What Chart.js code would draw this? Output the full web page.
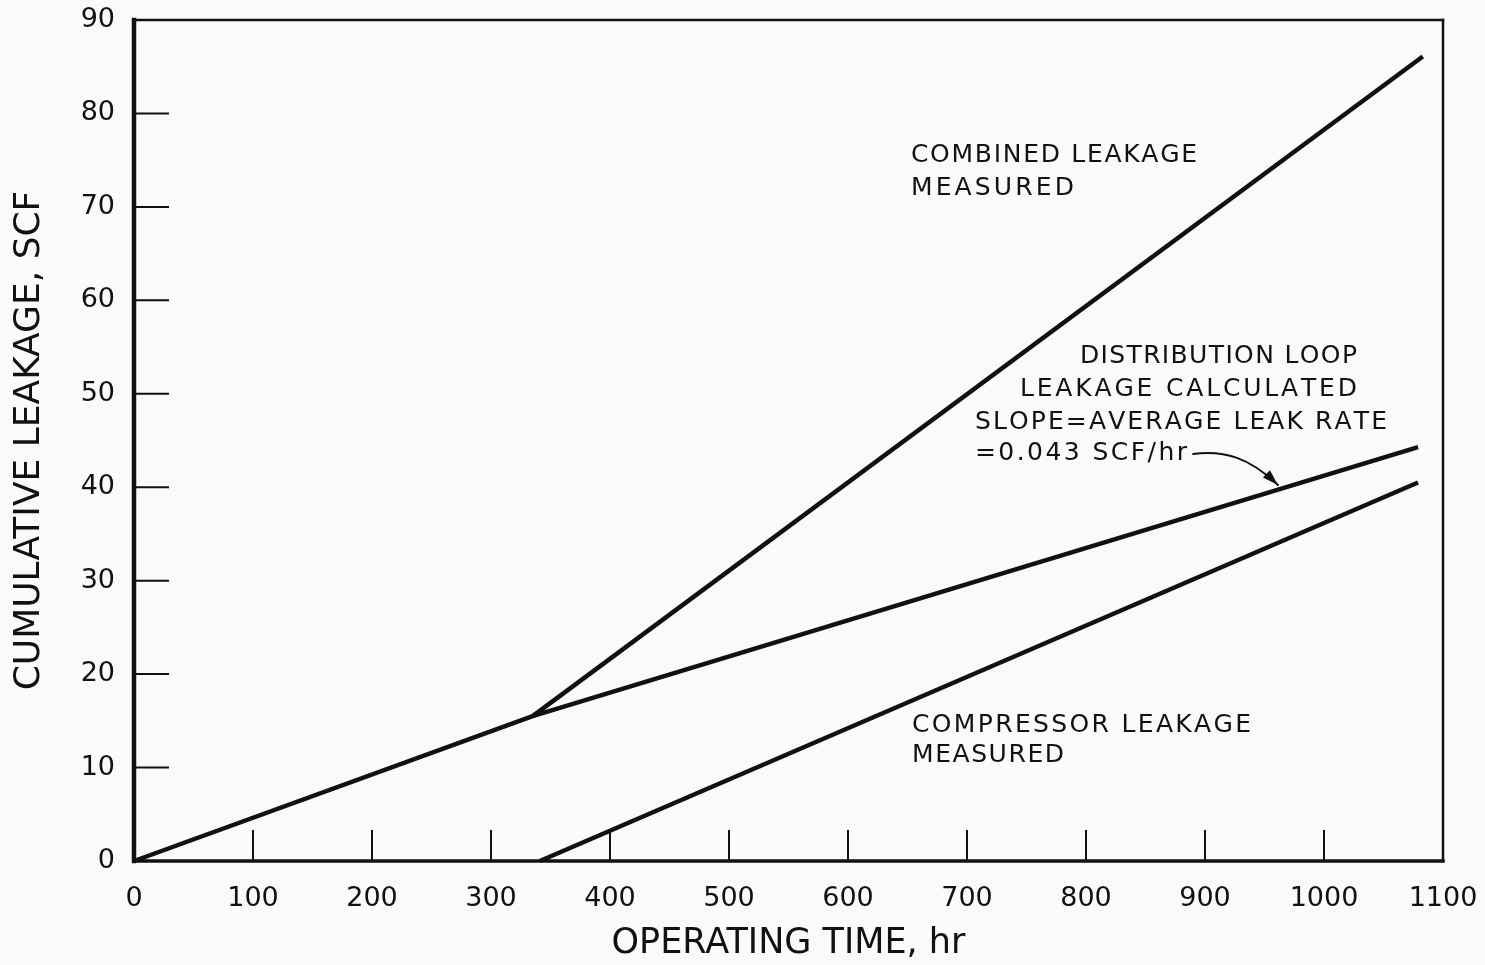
<!DOCTYPE html>
<html><head><meta charset="utf-8">
<script src="https://cdn.jsdelivr.net/npm/chart.js@4.4.1/dist/chart.umd.min.js"></script>
<style>html,body{margin:0;padding:0;background:#fafafa;overflow:hidden}canvas{display:block}</style>
</head><body>
<canvas id="c" width="1485" height="965"></canvas>
<script>
// ---- data ----
const distributionX = [0, 335, 1079];
const distributionY = [0, 15.5, 44.3];
const combinedX = [335, 1083];
const combinedY = [15.5, 86.1];
const compressorX = [341, 1079];
const compressorY = [0, 40.5];

const xTickValues = [0, 100, 200, 300, 400, 500, 600, 700, 800, 900, 1000, 1100];
const yTickValues = [0, 10, 20, 30, 40, 50, 60, 70, 80, 90];
const xTickMarks = [100, 200, 300, 400, 500, 600, 700, 800, 900, 1000];
const yTickMarks = [10, 20, 30, 40, 50, 60, 70, 80];

const xTitle = 'OPERATING TIME, hr';
const yTitle = 'CUMULATIVE LEAKAGE, SCF';

// annotation text: [text, x start, x end, y centre] in data units
const annotationText = [
  ['COMBINED LEAKAGE', 652.9, 893.3, 75.8],
  ['MEASURED', 652.9, 789.9, 72.2],
  ['DISTRIBUTION LOOP', 794.9, 1027.7, 54.3],
  ['LEAKAGE CALCULATED', 744.5, 1027.7, 50.7],
  ['SLOPE=AVERAGE LEAK RATE', 706.7, 1052.9, 47.2],
  ['=0.043 SCF/hr', 706.7, 884.9, 43.9],
  ['COMPRESSOR LEAKAGE', 653.8, 938.7, 14.8],
  ['MEASURED', 653.8, 781.5, 11.6]
];
// arrow (cubic curve) in data units: start, control 1, control 2, tip
const arrowX = [890, 916.8, 937.8, 961.3];
const arrowY = [43.56, 43.99, 43.13, 40.24];

const FONT = "'DejaVu Sans', sans-serif";
const INK = '#111';

function pts(xs, ys) { return xs.map((v, i) => ({x: v, y: ys[i]})); }

function drawSpaced(ctx, text, left, right, yc, size) {
  ctx.font = size + 'px ' + FONT;
  const chars = Array.from(text);
  const widths = chars.map(c => ctx.measureText(c).width);
  const total = widths.reduce((a, b) => a + b, 0);
  const gap = chars.length > 1 ? ((right - left) - total) / (chars.length - 1) : 0;
  let cx = left;
  // alphabetic baseline placed so that capitals are centred on yc
  const base = yc + size * 0.365;
  chars.forEach((c, i) => { ctx.fillText(c, cx, base); cx += widths[i] + gap; });
}

const decor = {
  id: 'decor',
  beforeDraw(chart) {
    const {ctx, width, height} = chart;
    ctx.save();
    ctx.fillStyle = '#fafafa';
    ctx.fillRect(0, 0, width, height);
    ctx.restore();
  },
  afterDatasetsDraw(chart) {
    const {ctx, chartArea: a, scales: {x, y}} = chart;
    ctx.save();
    ctx.strokeStyle = INK;
    ctx.fillStyle = INK;
    // inward tick marks
    ctx.lineWidth = 2;
    ctx.beginPath();
    xTickMarks.forEach(v => { const p = x.getPixelForValue(v); ctx.moveTo(p, a.bottom); ctx.lineTo(p, a.bottom - 31); });
    yTickMarks.forEach(v => { const p = y.getPixelForValue(v); ctx.moveTo(a.left, p); ctx.lineTo(a.left + 35, p); });
    ctx.stroke();
    // frame
    const seg = (w, x1, y1, x2, y2) => { ctx.lineWidth = w; ctx.beginPath(); ctx.moveTo(x1, y1); ctx.lineTo(x2, y2); ctx.stroke(); };
    ctx.lineCap = 'square';
    seg(2.5, a.left, a.top, a.right, a.top);
    seg(2.5, a.right, a.top, a.right, a.bottom);
    seg(3.5, a.left, a.bottom, a.right, a.bottom);
    seg(4.5, a.left, a.top, a.left, a.bottom);
    // annotation text
    ctx.textBaseline = 'alphabetic';
    ctx.textAlign = 'left';
    annotationText.forEach(t => {
      drawSpaced(ctx, t[0], x.getPixelForValue(t[1]), x.getPixelForValue(t[2]), y.getPixelForValue(t[3]), 25);
    });
    // arrow
    const ax = arrowX.map(v => x.getPixelForValue(v));
    const ay = arrowY.map(v => y.getPixelForValue(v));
    ctx.lineWidth = 2;
    ctx.lineCap = 'round';
    ctx.beginPath();
    ctx.moveTo(ax[0], ay[0]);
    ctx.bezierCurveTo(ax[1], ay[1], ax[2], ay[2], ax[3], ay[3]);
    ctx.stroke();
    const ang = Math.atan2(ay[3] - ay[2], ax[3] - ax[2]);
    const L = 16, W = 5;
    ctx.beginPath();
    ctx.moveTo(ax[3], ay[3]);
    ctx.lineTo(ax[3] - L * Math.cos(ang) + W * Math.sin(ang), ay[3] - L * Math.sin(ang) - W * Math.cos(ang));
    ctx.lineTo(ax[3] - L * Math.cos(ang) - W * Math.sin(ang), ay[3] - L * Math.sin(ang) + W * Math.cos(ang));
    ctx.closePath();
    ctx.fill();
    ctx.restore();
  }
};

const lineStyle = {showLine: true, pointRadius: 0, borderColor: INK, borderWidth: 4.5, fill: false, clip: false, borderJoinStyle: 'round', tension: 0};

function noPad(s) { s.paddingTop = 0; s.paddingBottom = 0; s.paddingLeft = 0; s.paddingRight = 0; }

new Chart(document.getElementById('c'), {
  type: 'scatter',
  data: {
    datasets: [
      Object.assign({label: 'Distribution loop leakage calculated', data: pts(distributionX, distributionY)}, lineStyle),
      Object.assign({label: 'Combined leakage measured', data: pts(combinedX, combinedY)}, lineStyle),
      Object.assign({label: 'Compressor leakage measured', data: pts(compressorX, compressorY)}, lineStyle)
    ]
  },
  options: {
    responsive: false,
    animation: false,
    devicePixelRatio: 1,
    layout: {padding: {top: 20, right: 42, left: 0, bottom: 0}},
    plugins: {legend: {display: false}, tooltip: {enabled: false}},
    scales: {
      x: {
        type: 'linear', min: 0, max: 1100,
        afterBuildTicks: s => { s.ticks = xTickValues.map(v => ({value: v})); },
        afterFit: s => { s.height = 104; noPad(s); },
        ticks: {autoSkip: false, maxRotation: 0, color: INK, padding: 22, font: {family: FONT, size: 27}, callback: v => String(v)},
        grid: {display: false, drawTicks: false},
        border: {display: false},
        title: {display: true, text: xTitle, color: INK, font: {family: FONT, size: 35}, padding: {top: 0, bottom: 0}}
      },
      y: {
        type: 'linear', min: 0, max: 90,
        afterBuildTicks: s => { s.ticks = yTickValues.map(v => ({value: v})); },
        afterFit: s => { s.width = 134; noPad(s); },
        ticks: {autoSkip: false, color: INK, padding: 19, font: {family: FONT, size: 27}, callback: v => String(v)},
        grid: {display: false, drawTicks: false},
        border: {display: false},
        title: {display: true, text: yTitle, color: INK, font: {family: FONT, size: 36}, padding: {top: 8, bottom: 0}}
      }
    }
  },
  plugins: [decor]
});
</script>
</body></html>
